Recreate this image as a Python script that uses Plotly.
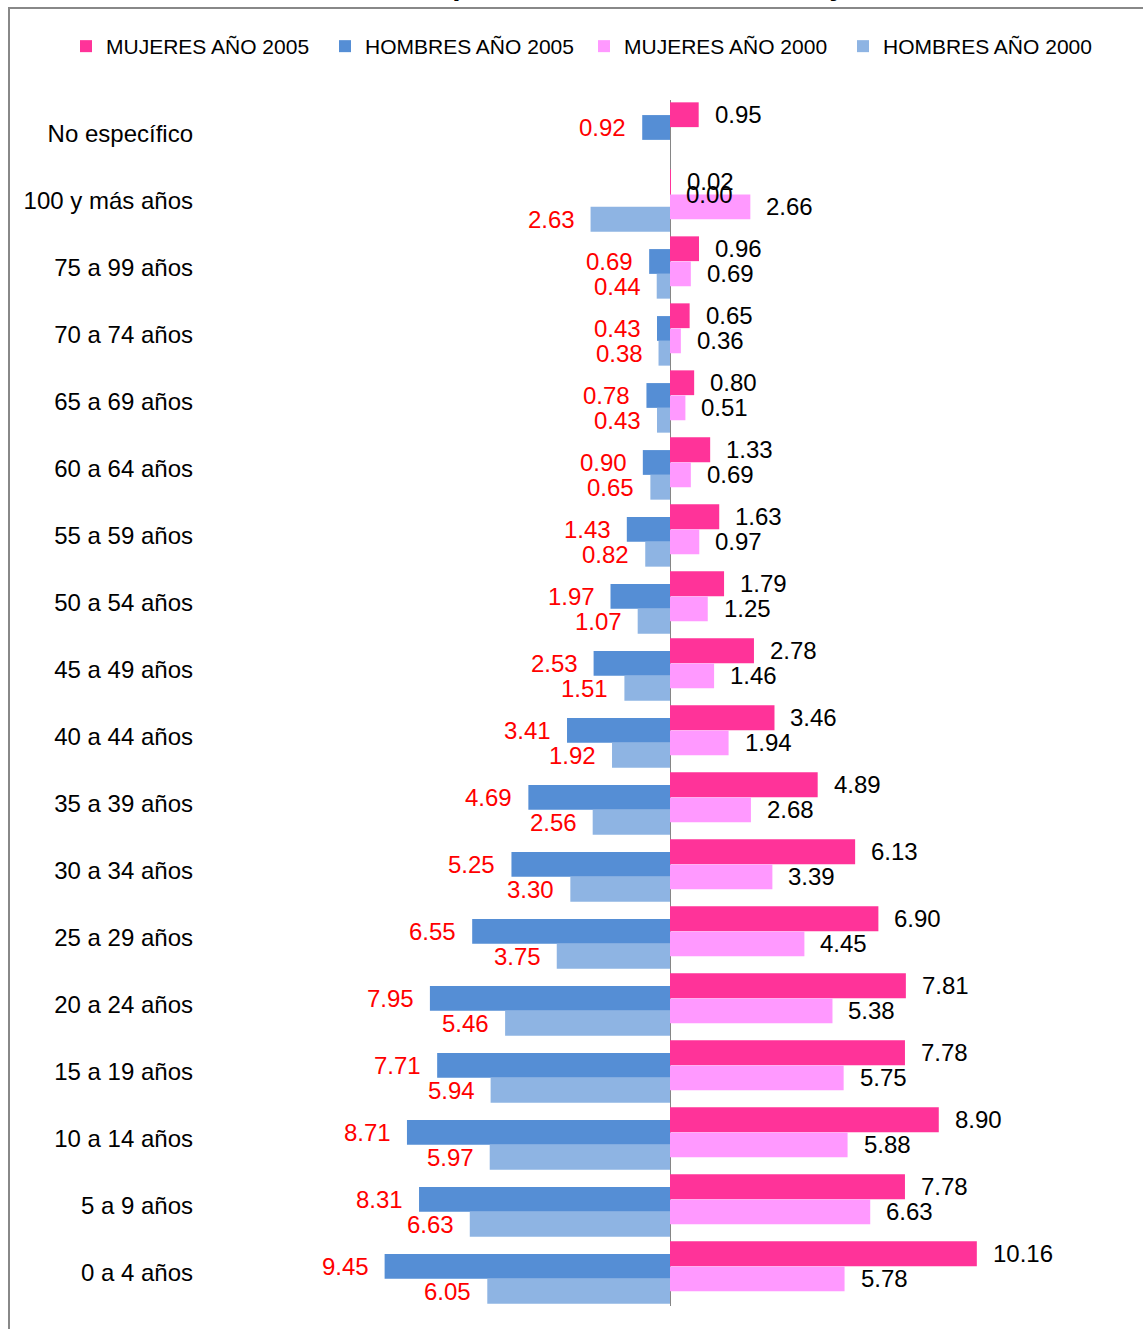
import plotly.graph_objects as go

# Categories from bottom (index 0) to top
categories = ["0 a 4 años", "5 a 9 años", "10 a 14 años", "15 a 19 años", "20 a 24 años",
              "25 a 29 años", "30 a 34 años", "35 a 39 años", "40 a 44 años", "45 a 49 años",
              "50 a 54 años", "55 a 59 años", "60 a 64 años", "65 a 69 años", "70 a 74 años",
              "75 a 99 años", "100 y más años", "No específico"]

mujeres_2005 = [10.16, 7.78, 8.90, 7.78, 7.81, 6.90, 6.13, 4.89, 3.46, 2.78,
                1.79, 1.63, 1.33, 0.80, 0.65, 0.96, 0.02, 0.95]
hombres_2005 = [9.45, 8.31, 8.71, 7.71, 7.95, 6.55, 5.25, 4.69, 3.41, 2.53,
                1.97, 1.43, 0.90, 0.78, 0.43, 0.69, 0.00, 0.92]
mujeres_2000 = [5.78, 6.63, 5.88, 5.75, 5.38, 4.45, 3.39, 2.68, 1.94, 1.46,
                1.25, 0.97, 0.69, 0.51, 0.36, 0.69, 2.66, None]
hombres_2000 = [6.05, 6.63, 5.97, 5.94, 5.46, 3.75, 3.30, 2.56, 1.92, 1.51,
                1.07, 0.82, 0.65, 0.43, 0.38, 0.44, 2.63, None]

series = [
    ("MUJERES AÑO 2005", mujeres_2005, "#FF3399", 0.28, False),
    ("HOMBRES AÑO 2005", hombres_2005, "#558ED5", 0.09, True),
    ("MUJERES AÑO 2000", mujeres_2000, "#FF99FF", -0.095, False),
    ("HOMBRES AÑO 2000", hombres_2000, "#8EB4E3", -0.28, True),
]

FONT = "Liberation Sans, Arial, sans-serif"
W, H = 1143, 1329
ML, MR, MT, MB = 200, 20, 100, 23
PW = W - ML - MR
PH = H - MT - MB

fig = go.Figure()
annotations = []
for name, vals, color, off, is_men in series:
    xs, ys = [], []
    for i, v in enumerate(vals):
        if v is None:
            continue
        xs.append(-v if is_men else v)
        ys.append(i + off)
    fig.add_trace(go.Bar(
        name=name, orientation="h", x=xs, y=ys, width=0.37,
        marker=dict(color=color, line=dict(width=0)),
        hoverinfo="skip",
    ))
    for i, v in enumerate(vals):
        if v is None:
            continue
        left = is_men and v != 0
        annotations.append(dict(
            x=-v if is_men else v, y=i + off, xref="x", yref="y",
            text=f"{v:.2f}", showarrow=False,
            xanchor="right" if left else "left",
            xshift=-14 if left else 14,
            font=dict(family=FONT, size=24, color="#FF0000" if left else "#000000"),
        ))

def px_x(p):
    return (p - ML) / PW

def px_y(p):
    return (H - MB - p) / PH

# Title (mostly cut off at the top of the image)
annotations.append(dict(
    x=px_x(575), y=px_y(3), xref="paper", yref="paper",
    text="<b>Población total por edad, Sexo años 2005 y 2000</b>",
    showarrow=False, xanchor="center", yanchor="bottom",
    font=dict(family=FONT, size=30, color="#000000"),
))

x_per_unit = 30.2
zero_px = 670
xmin = -(zero_px - ML) / x_per_unit
xmax = (W - MR - zero_px) / x_per_unit

fig.update_layout(
    width=W, height=H,
    margin=dict(l=ML, r=MR, t=MT, b=MB, autoexpand=False),
    barmode="overlay",
    plot_bgcolor="white", paper_bgcolor="white",
    font=dict(family=FONT, size=21, color="#000000"),
    xaxis=dict(range=[xmin, xmax], showticklabels=False, showgrid=False,
               zeroline=True, zerolinecolor="#868686", zerolinewidth=1,
               ticks="", fixedrange=True, automargin=False),
    yaxis=dict(range=[-0.5, len(categories) - 0.5], tickmode="array",
               tickvals=list(range(len(categories))), ticktext=categories,
               showgrid=False, zeroline=False, ticks="", ticklabelstandoff=6,
               automargin=False,
               tickfont=dict(family=FONT, size=24, color="#000000")),
    legend=dict(orientation="h", x=px_x(66), y=px_y(26), xanchor="left", yanchor="top",
                font=dict(family=FONT, size=21, color="#000000"),
                itemwidth=30, tracegroupgap=0, bgcolor="rgba(0,0,0,0)",
                entrywidth=214, entrywidthmode="pixels"),
    annotations=annotations,
    shapes=[dict(type="rect", xref="paper", yref="paper",
                 x0=px_x(9), x1=px_x(1160), y0=px_y(8), y1=px_y(1360),
                 line=dict(color="#888888", width=2), fillcolor="rgba(0,0,0,0)",
                 layer="below")],
    showlegend=True,
)

fig.write_html("out.html", post_script="document.body.style.margin='0';",
               config={"displayModeBar": False})
